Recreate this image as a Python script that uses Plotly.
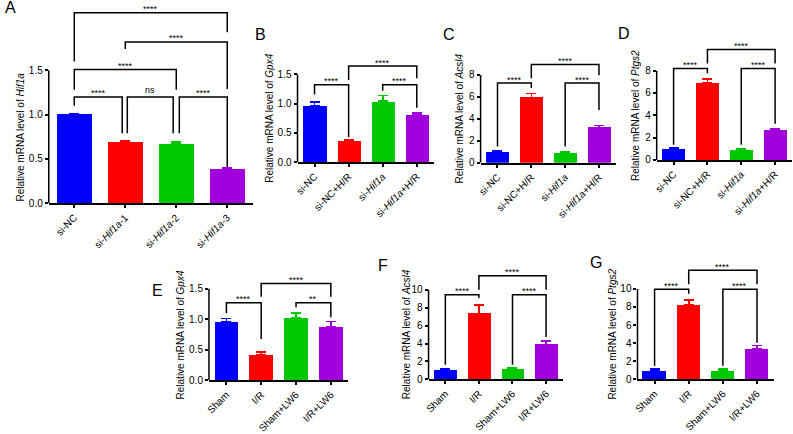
import plotly.graph_objects as go

W, H = 793, 434
COLORS = ["#0000FF", "#FF0000", "#00C800", "#A100DD"]
FONT = "Arial, Liberation Sans, Helvetica, sans-serif"

# ---------------- data ----------------
cats_A = ["si-NC", "si-<i>Hif1a</i>-1", "si-<i>Hif1a</i>-2", "si-<i>Hif1a</i>-3"]
vals_A = [1.00, 0.69, 0.67, 0.39]
err_A = [0.01, 0.02, 0.02, 0.01]

cats_BCD = ["si-NC", "si-NC+H/R", "si-<i>Hif1a</i>", "si-<i>Hif1a</i>+H/R"]
vals_B = [0.97, 0.36, 1.04, 0.81]
err_B = [0.06, 0.03, 0.10, 0.03]
vals_C = [1.00, 5.93, 0.89, 3.20]
err_C = [0.09, 0.38, 0.10, 0.20]
vals_D = [0.95, 6.89, 0.85, 2.62]
err_D = [0.12, 0.35, 0.13, 0.15]

cats_EFG = ["Sham", "I/R", "Sham+LW6", "I/R+LW6"]
vals_E = [0.95, 0.41, 1.02, 0.87]
err_E = [0.065, 0.05, 0.08, 0.09]
vals_F = [1.02, 7.35, 1.09, 3.89]
err_F = [0.15, 0.95, 0.15, 0.40]
vals_G = [1.00, 8.27, 1.00, 3.41]
err_G = [0.12, 0.48, 0.13, 0.33]

# significance brackets: (group i, group j, bar height, left leg end, right leg end, label, left dx, right dx)
sig_A = [(0, 3, 2.15, 1.60, 1.93, "****", 0, 0),
         (1, 3, 1.82, 1.74, 1.29, "****", 0, 0),
         (0, 2, 1.51, 1.28, 1.28, "****", 0, 0),
         (0, 1, 1.20, 1.10, 0.79, "****", 0, -0.06),
         (1, 2, 1.20, 0.79, 0.79, "ns", 0.04, -0.06),
         (2, 3, 1.20, 0.79, 0.41, "****", 0.06, 0)]
sig_B = [(0, 1, 1.32, 1.155, 0.43, "****", 0, 0),
         (1, 3, 1.64, 1.40, 1.43, "****", 0, 0),
         (2, 3, 1.32, 1.22, 0.93, "****", 0, 0)]
sig_C = [(0, 1, 7.26, 1.48, 6.80, "****", 0, 0),
         (1, 3, 8.95, 7.70, 7.97, "****", 0, 0),
         (2, 3, 7.26, 1.48, 4.80, "****", 0, 0)]
sig_D = [(0, 1, 8.20, 1.37, 7.77, "****", 0, 0),
         (1, 3, 9.90, 8.64, 8.64, "****", 0, 0),
         (2, 3, 8.20, 1.37, 3.24, "****", 0, 0)]
sig_E = [(0, 1, 1.27, 1.10, 0.675, "****", 0, 0),
         (1, 3, 1.585, 1.37, 1.37, "****", 0, 0),
         (2, 3, 1.27, 1.195, 1.034, "**", 0, 0)]
sig_F = [(0, 1, 9.45, 1.64, 9.10, "****", 0, 0),
         (1, 3, 11.57, 10.0, 10.0, "****", 0, 0),
         (2, 3, 9.45, 1.64, 4.73, "****", 0, 0)]
sig_G = [(0, 1, 9.97, 1.51, 9.46, "****", 0, 0),
         (1, 3, 12.05, 10.5, 10.5, "****", 0, 0),
         (2, 3, 9.97, 1.51, 4.06, "****", 0, 0)]

ytick_A = [0, 0.5, 1.0, 1.5]
ytick_CD = [0, 2, 4, 6, 8]
ytick_FG = [0, 2, 4, 6, 8, 10]

# ---------------- layout geometry (pixels) ----------------
panels = [
    dict(letter="A", gene="Hif1a", cats=cats_A, vals=vals_A, err=err_A, sig=sig_A, ticks=ytick_A, fmt=".1f",
         x0=45, x1=250, y0=208, ytop=72, R=2.27, tshift=-28, lx=7, ly=8),
    dict(letter="B", gene="Gpx4", cats=cats_BCD, vals=vals_B, err=err_B, sig=sig_B, ticks=ytick_A, fmt=".1f",
         x0=295, x1=432, y0=166, ytop=76, R=1.8, tshift=-28, lx=258, ly=35),
    dict(letter="C", gene="Acsl4", cats=cats_BCD, vals=vals_C, err=err_C, sig=sig_C, ticks=ytick_CD, fmt="d",
         x0=479, x1=615, y0=166.7, ytop=76.7, R=9.6, tshift=-21, lx=447, ly=35),
    dict(letter="D", gene="Ptgs2", cats=cats_BCD, vals=vals_D, err=err_D, sig=sig_D, ticks=ytick_CD, fmt="d",
         x0=656, x1=792, y0=163.7, ytop=72.3, R=10.9, tshift=-21, lx=623, ly=34),
    dict(letter="E", gene="Gpx4", cats=cats_EFG, vals=vals_E, err=err_E, sig=sig_E, ticks=ytick_A, fmt=".1f",
         x0=206, x1=346, y0=389.3, ytop=295.5, R=1.75, tshift=-28, lx=154, ly=297),
    dict(letter="F", gene="Acsl4", cats=cats_EFG, vals=vals_F, err=err_F, sig=sig_F, ticks=ytick_FG, fmt="d",
         x0=426.7, x1=561.7, y0=388.3, ytop=296.7, R=12.5, tshift=-22, lx=381, ly=272),
    dict(letter="G", gene="Ptgs2", cats=cats_EFG, vals=vals_G, err=err_G, sig=sig_G, ticks=ytick_FG, fmt="d",
         x0=636.7, x1=774, y0=388.3, ytop=295.7, R=13.0, tshift=-25, lx=595, ly=269),
]

fig = go.Figure()
shapes = []
annotations = []
layout = {}

for k, p in enumerate(panels, start=1):
    sx = "" if k == 1 else str(k)
    xa, ya = "x" + sx, "y" + sx
    tmax = p["ticks"][-1]
    ppu = (p["y0"] - p["ytop"]) / tmax
    top_px = p["y0"] - p["R"] * ppu

    for i, (v, e) in enumerate(zip(p["vals"], p["err"])):
        fig.add_trace(go.Bar(
            x=[i], y=[v], width=0.68, xaxis=xa, yaxis=ya,
            marker=dict(color=COLORS[i], line=dict(width=0)),
            error_y=dict(type="data", array=[e], arrayminus=[0], symmetric=False,
                         color=COLORS[i], thickness=1.6, width=5),
            showlegend=False, hoverinfo="skip"))

    layout["xaxis" + sx] = dict(
        domain=[p["x0"] / W, p["x1"] / W], range=[-0.5, 3.5], anchor=ya,
        tickmode="array", tickvals=[0, 1, 2, 3], ticktext=p["cats"], tickangle=-45,
        ticks="outside", ticklen=3, tickwidth=1.5, tickcolor="black",
        showline=True, linewidth=1.5, linecolor="black", showgrid=False, zeroline=False,
        tickfont=dict(family=FONT, size=10, color="black"), fixedrange=True)
    layout["yaxis" + sx] = dict(
        domain=[(H - p["y0"]) / H, (H - top_px) / H], range=[0, p["R"]], anchor=xa,
        tickmode="array", tickvals=p["ticks"], tickformat=p["fmt"],
        ticks="outside", ticklen=3, tickwidth=1.5, tickcolor="black",
        showline=False, showgrid=False, zeroline=False,
        tickfont=dict(family=FONT, size=10, color="black"), fixedrange=True)

    # visible y-axis line (only up to last tick, GraphPad style)
    shapes.append(dict(type="line", xref=xa + " domain", yref=ya, x0=0, x1=0, y0=0, y1=tmax,
                       line=dict(color="black", width=1.5)))

    # y-axis title centred on the visible axis
    annotations.append(dict(
        xref=xa + " domain", yref=ya, x=0, y=tmax / 2, xshift=p["tshift"],
        text="Relative mRNA level of <i>%s</i>" % p["gene"], textangle=-90,
        showarrow=False, xanchor="center", yanchor="middle",
        font=dict(family=FONT, size=10, color="black")))

    # panel letter
    annotations.append(dict(
        xref="paper", yref="paper", x=p["lx"] / W, y=1 - p["ly"] / H,
        text=p["letter"], showarrow=False, xanchor="center", yanchor="middle",
        font=dict(family=FONT, size=16, color="black")))

    # significance brackets
    for (i, j, yb, yl, yr, lab, dl, dr) in p["sig"]:
        xl, xr = i + dl, j + dr
        shapes.append(dict(type="path", xref=xa, yref=ya,
                           path="M %g,%g L %g,%g L %g,%g L %g,%g" % (xl, yl, xl, yb, xr, yb, xr, yr),
                           line=dict(color="black", width=1.5)))
        annotations.append(dict(
            xref=xa, yref=ya, x=(xl + xr) / 2, y=yb, text=lab, showarrow=False,
            xanchor="center", yanchor="bottom", yshift=(-3.5 if "*" in lab else -0.5),
            font=dict(family=FONT, size=9, color="black")))

fig.update_layout(
    width=W, height=H, margin=dict(l=0, r=0, t=0, b=0),
    paper_bgcolor="white", plot_bgcolor="white",
    showlegend=False, bargap=0, shapes=shapes, annotations=annotations,
    font=dict(family=FONT, color="black"), **layout)

fig.write_html("out.html")
